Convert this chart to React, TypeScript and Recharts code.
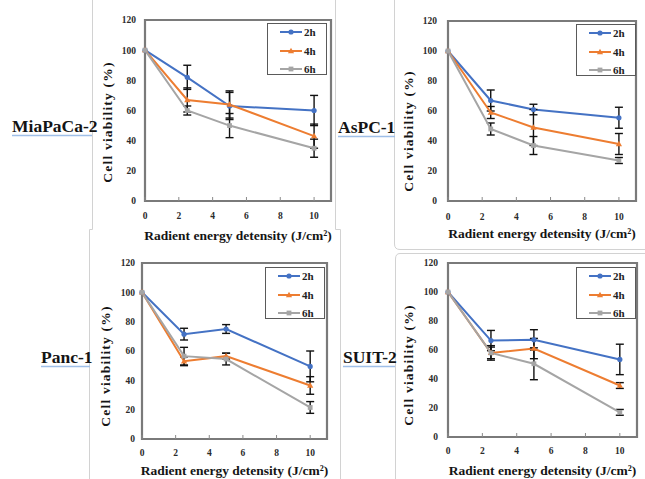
import { LineChart, Line, XAxis, YAxis, ErrorBar, ReferenceArea, Legend } from 'recharts';

// shared axes
const doses = [0, 2.5, 5, 10];
const xTicks = [0, 2, 4, 6, 8, 10];
const yTicks = [0, 20, 40, 60, 80, 100, 120];
const seriesNames = ['2h', '4h', '6h'];

// MiaPaCa-2
const mia2h = [100, 82, 63, 60];
const mia2hErr = [null, 8, 9, 10];
const mia4h = [100, 67, 64, 43];
const mia4hErr = [null, 8, 9, 8];
const mia6h = [100, 60, 50, 35];
const mia6hErr = [null, 3, 8, 6];

// AsPC-1
const aspc2h = [100, 67, 61, 55.5];
const aspc2hErr = [null, 7, 3.5, 7];
const aspc4h = [100, 59, 49, 38];
const aspc4hErr = [null, 4, 12, 7];
const aspc6h = [100, 48, 37, 27];
const aspc6hErr = [null, 4, 6, 2];

// Panc-1
const panc2h = [100, 71.5, 75, 49.5];
const panc2hErr = [null, 4, 3, 10.5];
const panc4h = [100, 53, 56.5, 36.5];
const panc4hErr = [null, 3, 2, 6];
const panc6h = [100, 56.5, 54.5, 21.5];
const panc6hErr = [null, 6, 4, 4];

// SUIT-2
const suit2h = [100, 66.5, 67, 53.5];
const suit2hErr = [null, 7, 7, 10.5];
const suit4h = [100, 58, 61, 35.5];
const suit4hErr = [null, 4, 7, 2];
const suit6h = [100, 58, 50.5, 17];
const suit6hErr = [null, 5, 11, 2];

const COLORS = ['#4472C4', '#ED7D31', '#A5A5A5'];
const MARKERS = ['circle', 'triangle', 'square'];
const SERIF = '"Liberation Serif", "Times New Roman", "DejaVu Serif", serif';
const X_TITLE = 'Radient energy detensity (J/cm²)';
const Y_TITLE = 'Cell viability (%)';

function buildRows(vals: number[][], errs: (number | null)[][]) {
  return doses.map((d, i) => ({
    dose: d,
    v0: vals[0][i], e0: errs[0][i],
    v1: vals[1][i], e1: errs[1][i],
    v2: vals[2][i], e2: errs[2][i],
  }));
}

function Marker({ kind, cx, cy, color }: { kind: string; cx?: number; cy?: number; color: string }) {
  if (cx == null || cy == null) return null;
  if (kind === 'circle') return <circle cx={cx} cy={cy} r={2.6} fill={color} />;
  if (kind === 'triangle')
    return <path d={`M${cx},${cy - 3.3}L${cx + 3.1},${cy + 2.2}L${cx - 3.1},${cy + 2.2}Z`} fill={color} />;
  return <rect x={cx - 2.4} y={cy - 2.4} width={4.8} height={4.8} fill={color} />;
}

function LegendBox() {
  return (
    <div
      style={{
        position: 'relative',
        width: 60,
        height: 52,
        border: '1.5px solid #5a5a5a',
        boxSizing: 'border-box',
        background: '#fff',
      }}
    >
      {seriesNames.map((name, i) => (
        <div
          key={name}
          style={{ position: 'absolute', left: 0, top: 1.5 + i * 18.5, height: 13, display: 'flex', alignItems: 'center' }}
        >
          <svg width={36} height={12}>
            <line x1={12} x2={34} y1={6} y2={6} stroke={COLORS[i]} strokeWidth={2} />
            <Marker kind={MARKERS[i]} cx={23} cy={6} color={COLORS[i]} />
          </svg>
          <span style={{ fontFamily: SERIF, fontWeight: 'bold', fontSize: 11, color: '#222' }}>{name}</span>
        </div>
      ))}
    </div>
  );
}

interface PanelProps {
  rows: ReturnType<typeof buildRows>;
  left: number;
  top: number;
  width: number;
  height: number;
  margin: { top: number; left: number; right: number; bottom: number };
  xAxisH: number;
  tickGap: number;
  yTickGap: number;
  xLabelDy: number;
  yLabelDx: number;
  yLabelDy: number;
  legendX: number;
  legendY: number;
}

function Panel(p: PanelProps) {
  const tickStyle = { fontFamily: SERIF, fontWeight: 'bold', fontSize: 9.5, fill: '#2a2a2a' };
  const titleStyle = { fontFamily: SERIF, fontWeight: 'bold', fontSize: 13.5, fill: '#151515' };

  const xLabel = (props: any) => {
    const vb = props.viewBox;
    return (
      <text x={vb.x + vb.width / 2} y={vb.y + p.xLabelDy} textAnchor="middle" dominantBaseline="central" style={titleStyle}>
        {X_TITLE}
      </text>
    );
  };
  const yLabel = (props: any) => {
    const vb = props.viewBox;
    const x = vb.x + vb.width + p.yLabelDx;
    const y = vb.y + vb.height / 2 + p.yLabelDy;
    return (
      <text
        x={x}
        y={y}
        textAnchor="middle"
        dominantBaseline="central"
        transform={`rotate(-90, ${x}, ${y})`}
        style={{ ...titleStyle, letterSpacing: 1.2 }}
      >
        {Y_TITLE}
      </text>
    );
  };

  return (
    <div style={{ position: 'absolute', left: p.left, top: p.top }}>
      <LineChart width={p.width} height={p.height} data={p.rows} margin={p.margin}>
        <XAxis
          dataKey="dose"
          type="number"
          domain={[0, 11]}
          ticks={xTicks}
          height={p.xAxisH}
          axisLine={false}
          tickSize={-4}
          tickMargin={p.tickGap}
          tickLine={{ stroke: '#8a8a8a' }}
          tick={tickStyle}
          label={xLabel}
        />
        <YAxis
          type="number"
          domain={[0, 120]}
          ticks={yTicks}
          width={40}
          axisLine={false}
          tickLine={false}
          tickSize={0}
          tickMargin={p.yTickGap}
          tick={tickStyle}
          label={yLabel}
        />
        <ReferenceArea x1={0} x2={11} y1={0} y2={120} fill="none" stroke="#7a7a7a" strokeWidth={2.2} />
        {[0, 1, 2].map((i) => (
          <Line
            key={i}
            dataKey={`v${i}`}
            name={seriesNames[i]}
            type="linear"
            stroke={COLORS[i]}
            strokeWidth={2}
            isAnimationActive={false}
            activeDot={false}
            dot={(d: any) => <Marker key={`m${i}-${d.index}`} kind={MARKERS[i]} cx={d.cx} cy={d.cy} color={COLORS[i]} />}
          >
            <ErrorBar dataKey={`e${i}`} width={4} stroke="#111" strokeWidth={1.4} direction="y" isAnimationActive={false} />
          </Line>
        ))}
        <Legend
          layout="vertical"
          align="center"
          verticalAlign="middle"
          wrapperStyle={{ left: p.legendX, top: p.legendY, width: 60, height: 52 }}
          content={() => <LegendBox />}
        />
      </LineChart>
    </div>
  );
}

const miaRows = buildRows([mia2h, mia4h, mia6h], [mia2hErr, mia4hErr, mia6hErr]);
const aspcRows = buildRows([aspc2h, aspc4h, aspc6h], [aspc2hErr, aspc4hErr, aspc6hErr]);
const pancRows = buildRows([panc2h, panc4h, panc6h], [panc2hErr, panc4hErr, panc6hErr]);
const suitRows = buildRows([suit2h, suit4h, suit6h], [suit2hErr, suit4hErr, suit6hErr]);

const cellNames = [
  { text: 'MiaPaCa-2', x: 12, y: 132, ux: 92 },
  { text: 'AsPC-1', x: 338, y: 133, ux: 395 },
  { text: 'Panc-1', x: 41, y: 363, ux: 90 },
  { text: 'SUIT-2', x: 343, y: 363, ux: 395 },
];

export default function App() {
  return (
    <div style={{ position: 'absolute', left: 0, top: 0, width: 645, height: 479, background: '#fff', overflow: 'hidden' }}>
      {/* image frames */}
      <svg width={645} height={479} style={{ position: 'absolute', left: 0, top: 0 }}>
        <g stroke="#d2d2d2" strokeWidth={1} fill="none">
          <path d="M92.5,0V229.5H89.5V479" />
          <path d="M335.5,0V229.5H340.5V479" />
          <path d="M645,249.5H400Q394.5,249.5 394.5,244V0" />
          <path d="M645,253.5H400Q395.5,253.5 395.5,259V479" />
        </g>
      </svg>
      <Panel
        rows={miaRows}
        left={92} top={0} width={245} height={245}
        margin={{ top: 20, left: 13, right: 6, bottom: 0 }}
        xAxisH={44} tickGap={15} yTickGap={9}
        xLabelDy={34} yLabelDx={-38} yLabelDy={11.5}
        legendX={175} legendY={23}
      />
      <Panel
        rows={aspcRows}
        left={394} top={0} width={251} height={249}
        margin={{ top: 21, left: 14, right: 9, bottom: 0 }}
        xAxisH={48} tickGap={16} yTickGap={11}
        xLabelDy={32} yLabelDx={-40} yLabelDy={20}
        legendX={182} legendY={24}
      />
      <Panel
        rows={pancRows}
        left={89} top={230} width={251} height={249}
        margin={{ top: 33, left: 13, right: 13, bottom: 0 }}
        xAxisH={40} tickGap={14} yTickGap={7}
        xLabelDy={31} yLabelDx={-37} yLabelDy={15}
        legendX={176} legendY={37}
      />
      <Panel
        rows={suitRows}
        left={394} top={253} width={251} height={226}
        margin={{ top: 10, left: 14, right: 8, bottom: 0 }}
        xAxisH={42} tickGap={14} yTickGap={10}
        xLabelDy={33} yLabelDx={-40} yLabelDy={15}
        legendX={182} legendY={14}
      />
      {/* cell line names */}
      <svg width={645} height={479} style={{ position: 'absolute', left: 0, top: 0, pointerEvents: 'none' }}>
        {cellNames.map((c) => (
          <g key={c.text}>
            <line x1={c.x} x2={c.ux} y1={c.y + 3.5} y2={c.y + 3.5} stroke="#9fbfe8" strokeWidth={1.5} />
            <text x={c.x} y={c.y} fontFamily={SERIF} fontWeight="bold" fontSize={17.5} fill="#141414">
              {c.text}
            </text>
          </g>
        ))}
      </svg>
    </div>
  );
}
